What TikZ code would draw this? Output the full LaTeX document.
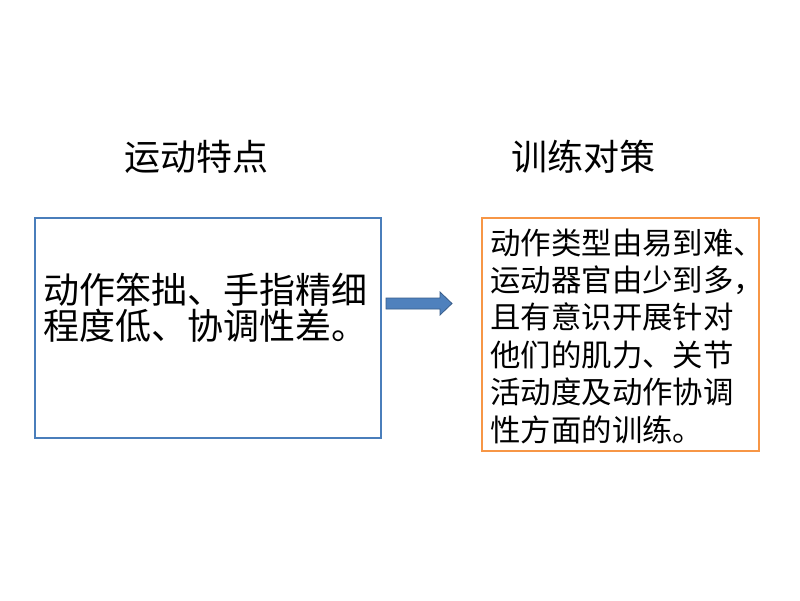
\documentclass[tikz,border=0pt]{standalone}
\usepackage{fontspec}
\newfontfamily\cjk{Noto Sans CJK SC}
\definecolor{boxblue}{HTML}{4A7EBB}
\definecolor{boxorange}{HTML}{F79646}
\definecolor{arrfill}{HTML}{4F81BD}
\definecolor{arrline}{HTML}{385D8A}
\begin{document}
\begin{tikzpicture}[x=1pt,y=-1pt,
  txt/.style={inner sep=0pt, outer sep=0pt, anchor=base west, align=left, text=black},
  bigtxt/.style={txt, font=\cjk\fontsize{36}{35.5}\selectfont},
  smalltxt/.style={txt, font=\cjk\fontsize{30.4}{37.4}\selectfont}]
\useasboundingbox (0,0) rectangle (800,600);
\fill[white] (0,0) rectangle (800,600);
% boxes
\draw[boxblue, line width=1.5pt] (35,218) rectangle (381,438);
\draw[boxorange, line width=1.5pt] (482,218) rectangle (759,451);
% titles
\node[bigtxt] (t1) at (124,170.5) {运动特点};
\node[bigtxt] (t2) at (511,170.5) {训练对策};
% left text (anchor = baseline of last line)
\node[bigtxt] (lt) at (43,339) {动作笨拙、手指精细\\程度低、协调性差。};
% right text (anchor = baseline of last line)
\node[smalltxt] (rt) at (490.5,441) {动作类型由易到难、\\运动器官由少到多，\\且有意识开展针对\\他们的肌力、关节\\活动度及动作协调\\性方面的训练。};
% arrow
\draw[arrline, fill=arrfill, line width=0.8pt]
  (386,298) -- (440,298) -- (440,292) -- (452,303.5) -- (440,315) -- (440,309) -- (386,309) -- cycle;
\end{tikzpicture}
\end{document}
